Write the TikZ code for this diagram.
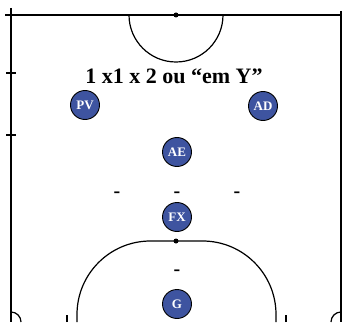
\documentclass[tikz,border=0pt]{standalone}
\usepackage{fontspec}
\setmainfont{Liberation Serif}
\usepackage{tikz}
\usetikzlibrary{positioning}
\definecolor{plblue}{RGB}{62,84,160}
\tikzset{
  fline/.style={line width=1.2pt,black},
  spot/.style={circle,fill=black,inner sep=0pt,minimum size=5pt},
  plyr/.style={circle,draw=black,line width=0.9pt,fill=plblue,text=white,minimum size=29pt,inner sep=0pt,font=\bfseries\fontsize{13}{13}\selectfont},
  dsh/.style={font=\bfseries\fontsize{20}{20}\selectfont,inner sep=0pt},
  ttl/.style={font=\bfseries\fontsize{22}{22}\selectfont,inner sep=0pt,anchor=base}
}
\begin{document}
\begin{tikzpicture}[x=1pt,y=1pt]
  \useasboundingbox (0,0) rectangle (343,322);
  \clip (0,0) rectangle (343,322);
  % lines of the half court
  \draw[fline] (5,307) -- (341,307);
  \draw[fline] (11,314) -- (11,0); \draw[fline] (341,311) -- (341,0);
  \draw[fline] (6,249) -- (16,249); \draw[fline] (6,187) -- (16,187);
  \draw[fline] (129,307) arc (180:360:47);
  \node[spot] (mid) at (176,307) {};
  % penalty area
  \draw[fline] (77,0) -- (77,7.5) arc (180:90:73.5) -- (202.5,81) arc (90:0:73.5) -- (276,0);
  \node[spot] (pen) at (176,81) {};
  \draw[fline] (21,0) arc (0:90:10); \draw[fline] (331,0) arc (180:90:10);
  \draw[fline] (67,0) -- (67,7); \draw[fline] (286,0) -- (286,7);
  % title
  \node[ttl] (title) at (174,238) {1 x1 x 2 ou “em Y”};
  % players
  \node[plyr] (pv) at (85,217) {PV};
  \node[plyr] (ad) at (263,216) {AD};
  \node[plyr] (ae) at (177,170) {AE};
  \node[plyr] (fx) at (177,105) {FX};
  \node[plyr] (g) at (177,18) {G};
  % marks
  \node[dsh] (d1) at (117,127) {-};
  \node[dsh] (d2) at (177,127) {-};
  \node[dsh] (d3) at (237,127) {-};
  \node[dsh] (d4) at (177,49) {-};
\end{tikzpicture}
\end{document}
